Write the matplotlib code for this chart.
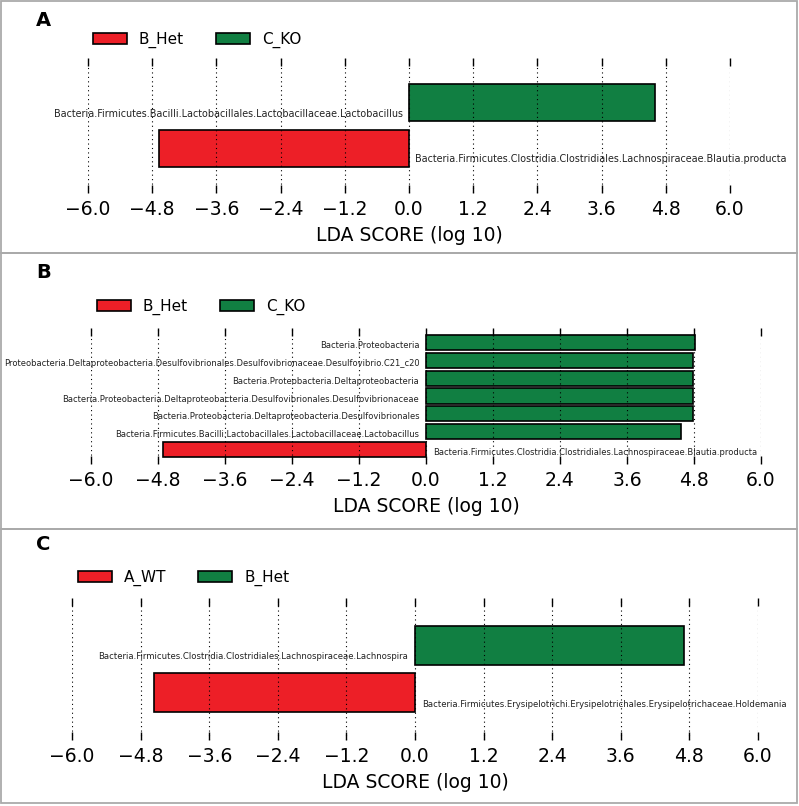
import numpy as np
import matplotlib
matplotlib.use("Agg")
import matplotlib.pyplot as plt
from matplotlib.patches import Rectangle, Patch

# panel A: B_Het vs C_KO (bottom to top)
a_features = ["Bacteria.Firmicutes.Clostridia.Clostridiales.Lachnospiraceae.Blautia.producta",
              "Bacteria.Firmicutes.Bacilli.Lactobacillales.Lactobacillaceae.Lactobacillus"]
a_lda = [-4.67, 4.60]
a_groups = ["B_Het", "C_KO"]

# panel B: B_Het vs C_KO
b_features = ["Bacteria.Firmicutes.Clostridia.Clostridiales.Lachnospiraceae.Blautia.producta",
              "Bacteria.Firmicutes.Bacilli.Lactobacillales.Lactobacillaceae.Lactobacillus",
              "Bacteria.Proteobacteria.Deltaproteobacteria.Desulfovibrionales",
              "Bacteria.Proteobacteria.Deltaproteobacteria.Desulfovibrionales.Desulfovibrionaceae",
              "Bacteria.Proteobacteria.Deltaproteobacteria",
              "Proteobacteria.Deltaproteobacteria.Desulfovibrionales.Desulfovibrionaceae.Desulfovibrio.C21_c20",
              "Bacteria.Proteobacteria"]
b_lda = [-4.71, 4.57, 4.79, 4.79, 4.79, 4.79, 4.81]
b_groups = ["B_Het", "C_KO"]

# panel C: A_WT vs B_Het
c_features = ["Bacteria.Firmicutes.Erysipelotrichi.Erysipelotrichales.Erysipelotrichaceae.Holdemania",
              "Bacteria.Firmicutes.Clostridia.Clostridiales.Lachnospiraceae.Lachnospira"]
c_lda = [-4.56, 4.70]
c_groups = ["A_WT", "B_Het"]

tick_vals = [-6.0, -4.8, -3.6, -2.4, -1.2, 0.0, 1.2, 2.4, 3.6, 4.8, 6.0]

RED = "#ed1f27"
GREEN = "#117f42"
W, H = 799, 806

fig = plt.figure(figsize=(W / 100, H / 100), dpi=100)


def px_axes(left, right, top, bottom):
    return fig.add_axes([left / W, 1 - bottom / H, (right - left) / W, (bottom - top) / H])


def panel(feats, vals, groups, box, letter, letter_y, leg_xy, lbl_size, lbl_off, bar_h, ymarg):
    ax = px_axes(*box)
    n = len(feats)
    pos = np.arange(n)
    cols = [RED if v < 0 else GREEN for v in vals]
    ax.barh(pos, vals, height=bar_h, color=cols, edgecolor="black", linewidth=1.2, zorder=2)
    for p, v, f in zip(pos, vals, feats):
        if v > 0:
            ax.text(-0.12, p - lbl_off, f, ha="right", va="center", fontsize=lbl_size, color="#222222")
        else:
            ax.text(0.12, p - lbl_off, f, ha="left", va="center", fontsize=lbl_size, color="#222222")
    ax.set_xlim(-6.0, 6.0)
    ax.set_ylim(-ymarg, n - 1 + ymarg)
    ax.set_xticks(tick_vals)
    ax.set_xticklabels([f"{t:.1f}".replace("-", "\u2212") for t in tick_vals], fontsize=13.5)
    ax.set_yticks([])
    ax.tick_params(axis="x", direction="in", top=True, bottom=True, length=6, width=1, pad=5)
    ax.xaxis.grid(True, linestyle=(0, (1, 3)), color="black", linewidth=0.8, zorder=5)
    ax.set_axisbelow(False)
    for s in ax.spines.values():
        s.set_visible(False)
    ax.set_xlabel("LDA SCORE (log 10)", fontsize=13.5, labelpad=5)
    handles = [Patch(facecolor=RED, edgecolor="black", linewidth=1.2, label=groups[0]),
               Patch(facecolor=GREEN, edgecolor="black", linewidth=1.2, label=groups[1])]
    fig.legend(handles=handles, loc="center left", ncol=2, frameon=False, fontsize=11,
               bbox_to_anchor=(leg_xy[0] / W, 1 - leg_xy[1] / H), borderpad=0, borderaxespad=0,
               handlelength=2.2, handleheight=0.7, handletextpad=0.8, columnspacing=2.1)
    fig.text(36 / W, 1 - letter_y / H, letter, fontsize=14, fontweight="bold", va="center", ha="left")
    return ax


panel(a_features, a_lda, a_groups, (88, 730, 58, 193), "A", 20, (93, 40), 6.9, 0.24, 0.8, 0.97)
panel(b_features, b_lda, b_groups, (91, 761, 328, 464), "B", 272, (97, 307), 6.0, 0.17, 0.85, 0.82)
panel(c_features, c_lda, c_groups, (72, 758, 598, 740), "C", 544, (78, 578), 6.1, 0.24, 0.81, 1.0)

# panel frames
frame_kw = dict(fill=False, edgecolor="#aaaaaa", linewidth=1.3, transform=fig.transFigure)
for top, bottom in [(1, 253), (253, 529), (529, 803)]:
    fig.add_artist(Rectangle((1 / W, 1 - bottom / H), 796 / W, (bottom - top) / H, **frame_kw))

fig.savefig("out.png", dpi=100)
